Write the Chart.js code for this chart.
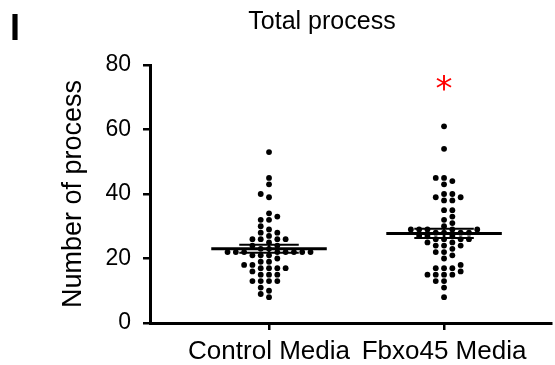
<!DOCTYPE html>
<html><head><meta charset="utf-8">
<script src="https://cdn.jsdelivr.net/npm/chart.js@4.4.0/dist/chart.umd.min.js"></script>
<style>html,body{margin:0;padding:0;background:#fff;}#wrap{width:555px;height:365px;}</style>
</head><body><div id="wrap"><canvas id="c" width="555" height="365"></canvas></div>
<script>
const categories = ['Control Media', 'Fbxo45 Media'];
const controlValues = [53, 45, 43, 40, 39, 34, 33, 32, 32, 30, 29, 28, 28, 27, 26, 26, 26, 26, 25, 24, 24, 23, 23,
  22, 22, 22, 22, 22, 22, 22, 22, 21, 21, 21, 20, 19, 19, 18, 18, 17, 17, 17, 17, 16, 15, 15, 15, 13, 13, 13, 13, 11, 10, 9, 8];
const fbxo45Values = [61, 54, 45, 45, 44, 43, 40, 40, 39, 39, 38, 38, 35, 35, 33, 32, 31, 30, 29, 29, 29, 29, 29,
  28, 28, 28, 28, 27, 27, 27, 26, 26, 26, 26, 25, 25, 24, 24, 24, 23, 22, 22, 21, 20, 18, 17, 17, 17, 16, 15, 15, 15, 15, 13, 13, 11, 8];
const yTicks = [0, 20, 40, 60, 80];
const chartTitle = 'Total process';
const yAxisTitle = 'Number of process';
const panelLabel = 'I';
const significance = ['', '*'];

const groups = [controlValues, fbxo45Values];
function mean(a){ return a.reduce((s,v)=>s+v,0)/a.length; }
function sem(a){ const m=mean(a); const v=a.reduce((s,x)=>s+(x-m)*(x-m),0)/(a.length-1); return Math.sqrt(v/a.length); }

const MEAN_HALF = 0.33, CAP_HALF = 0.17;
const datasets = [];
groups.forEach((vals, i) => {
  datasets.push({ type:'scatter', data: vals.map(v => ({x: i+1, y: v})), pointRadius: 2.9, pointBackgroundColor:'#000', pointBorderWidth:0, order: 5 });
});
groups.forEach((vals, i) => {
  const m = mean(vals), s = sem(vals), c = i+1;
  const line = (pts, w) => datasets.push({ type:'line', data: pts, borderColor:'#000', borderWidth:w, pointRadius:0, fill:false, order:1, borderCapStyle:'butt' });
  line([{x:c-MEAN_HALF,y:m},{x:c+MEAN_HALF,y:m}], 3);
  line([{x:c-CAP_HALF,y:m+s},{x:c+CAP_HALF,y:m+s}], 2);
  line([{x:c-CAP_HALF,y:m-s},{x:c+CAP_HALF,y:m-s}], 2);
  line([{x:c,y:m-s},{x:c,y:m+s}], 2);
});

const extras = {
  id:'extras',
  afterDraw(chart){
    const ctx = chart.ctx, xs = chart.scales.x, ys = chart.scales.y;
    ctx.save();
    ctx.fillStyle = '#000';
    ctx.textAlign = 'center'; ctx.textBaseline = 'alphabetic';
    ctx.font = '25px "Liberation Sans", Arial, sans-serif';
    ctx.fillText(chartTitle, 322, 29);
    ctx.textAlign = 'left';
    ctx.font = 'bold 36px "Liberation Sans", Arial, sans-serif';
    ctx.fillText(panelLabel, 10, 40);
    ctx.fillStyle = '#ff0000';
    ctx.textAlign = 'center';
    ctx.font = '34px "DejaVu Sans", sans-serif';
    significance.forEach((t, i) => { if (t) ctx.fillText(t, xs.getPixelForValue(i+1), ys.getPixelForValue(69)); });
    ctx.restore();
  }
};

const FONT = '"Liberation Sans", Arial, sans-serif';
const chart = new Chart(document.getElementById('c'), {
  type:'scatter',
  data:{ datasets },
  options:{
    responsive:false, animation:false, devicePixelRatio:1,
    layout:{ padding:{ top:65, right:0, left:0, bottom:0 } },
    plugins:{ legend:{display:false}, tooltip:{enabled:false}, title:{display:false} },
    scales:{
      x:{ type:'linear', min:0.32, max:2.611,
        afterBuildTicks: s => { s.ticks = categories.map((c,i)=>({value:i+1})); },
        afterFit: s => { s.height = 42; },
        ticks:{ callback: v => categories[v-1], color:'#000', font:{ size:26, family:FONT }, padding:6, maxRotation:0, autoSkip:false },
        grid:{ display:true, drawOnChartArea:false, drawTicks:true, tickLength:7, color:'#000', lineWidth:2.5 },
        border:{ display:true, color:'#000', width:3 }
      },
      y:{ min:0, max:80,
        afterBuildTicks: s => { s.ticks = yTicks.map(v=>({value:v})); },
        afterFit: s => { s.width = 150; },
        ticks:{ color:'#000', font:{ size:23, family:FONT }, padding:12 },
        title:{ display:true, text:yAxisTitle, color:'#000', font:{ size:27, family:FONT }, padding:{top:57, bottom:0} },
        grid:{ display:true, drawOnChartArea:false, drawTicks:true, tickLength:7, color:'#000', lineWidth:2.5 },
        border:{ display:true, color:'#000', width:3 }
      }
    }
  },
  plugins:[extras]
});

// beeswarm layout: spread points that would overlap, on a hex-like grid
function swarm(){
  const xs = chart.scales.x, ys = chart.scales.y;
  const STEP = 4.15, D = 6.0;
  groups.forEach((vals, gi) => {
    const cx = xs.getPixelForValue(gi+1);
    const order = vals.map((v,i)=>i).sort((a,b)=>vals[a]-vals[b]);
    const placed = [];
    let flip = 1;
    order.forEach(idx => {
      const py = ys.getPixelForValue(vals[idx]);
      for (let k = 0; k < 80; k++) {
        const slot = k === 0 ? 0 : (Math.ceil(k/2) * ((k % 2) ? flip : -flip));
        const px = cx + slot*STEP;
        if (placed.every(p => Math.hypot(p.x-px, p.y-py) >= D)) {
          placed.push({x:px, y:py});
          chart.data.datasets[gi].data[idx].x = xs.getValueForPixel(px);
          flip = -flip;
          break;
        }
      }
    });
  });
  chart.update('none');
}
swarm();
</script></body></html>
